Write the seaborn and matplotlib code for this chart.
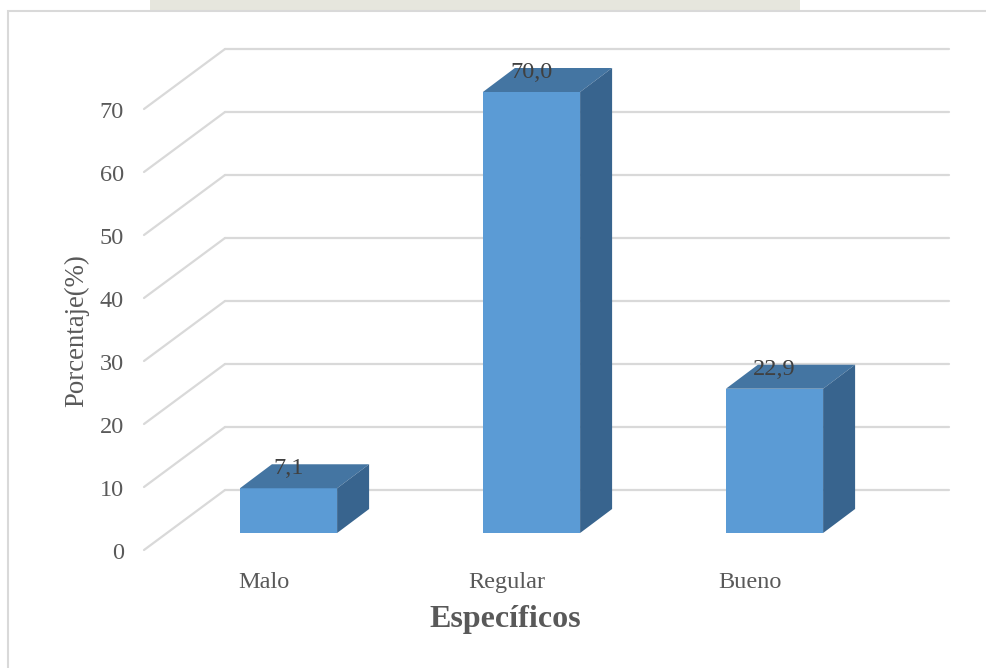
import matplotlib
matplotlib.use('Agg')
import matplotlib.pyplot as plt
import matplotlib.transforms as mtransforms
from matplotlib.patches import Polygon, Rectangle
from matplotlib.lines import Line2D
import seaborn as sns
import pandas as pd

categories = ['Malo', 'Regular', 'Bueno']
values = [7.1, 70.0, 22.9]
value_labels = ['7,1', '70,0', '22,9']
y_ticks = [0, 10, 20, 30, 40, 50, 60, 70]
x_title = 'Específicos'
y_title = 'Porcentaje(%)'

sns.set_theme(style='white')
plt.rcParams['font.family'] = ['Liberation Serif', 'DejaVu Serif']

W, H = 987, 668
DPI = 100
fig = plt.figure(figsize=(W / DPI, H / DPI), dpi=DPI)
fig.patch.set_facecolor('white')

# watermark band above the chart frame
fig.patches.append(Rectangle((150 / W, 1 - 11 / H), 650 / W, 11 / H,
                             transform=fig.transFigure, facecolor='#E6E6DD',
                             edgecolor='none', zorder=0))
# chart frame
fig.patches.append(Rectangle((8 / W, -0.02), 1.0, (H - 11) / H + 0.02,
                             transform=fig.transFigure, fill=False,
                             edgecolor='#D9D9D9', linewidth=1.5, zorder=1))

# axes = plane of the bar fronts
ax = fig.add_axes([167 / W, (H - 533) / H, 729 / W, 441 / H])
df = pd.DataFrame({'cat': categories, 'val': values})
sns.barplot(data=df, x='cat', y='val', color='#5B9BD5', width=0.4,
            saturation=1, ax=ax, zorder=3, edgecolor='none')
ax.set_xlim(-0.5, 2.5)
ax.set_ylim(0, 70)
ax.axis('off')

# 3D offsets in pixels (display: y up)
BACK = (58, 43)
BACK_R = (53, 43)
FRONT = (-23, -17)
DEPTH = (32, 24)


def disp(x, y, off=(0, 0)):
    px, py = ax.transData.transform((x, y))
    return (px + off[0], py + off[1])


ident = mtransforms.IdentityTransform()
grid_c = '#D9D9D9'
FS = 17.5

x0, x1 = ax.get_xlim()
for v in y_ticks:
    # back wall gridline
    a = disp(x0, v, BACK)
    b = disp(x1, v, BACK_R)
    fig.add_artist(Line2D([a[0], b[0]], [a[1], b[1]], transform=ident,
                          color=grid_c, lw=1.6, zorder=0))
    # side wall diagonal
    c = disp(x0, v, FRONT)
    fig.add_artist(Line2D([c[0], a[0]], [c[1], a[1]], transform=ident,
                          color=grid_c, lw=1.6, zorder=0))
    # tick label
    fig.text(c[0] - 20, c[1] - 9, str(v), transform=ident, ha='right',
             va='baseline', fontsize=FS, color='#595959')

# 3D faces of the bars
top_c = '#4475A2'
side_c = '#38648E'
for rect, lab in zip(ax.patches, value_labels):
    bx = rect.get_x()
    bw = rect.get_width()
    bh = rect.get_height()
    fl = disp(bx, bh)
    fr = disp(bx + bw, bh)
    br = disp(bx + bw, 0)
    top = [fl, fr, (fr[0] + DEPTH[0], fr[1] + DEPTH[1]),
           (fl[0] + DEPTH[0], fl[1] + DEPTH[1])]
    side = [br, fr, (fr[0] + DEPTH[0], fr[1] + DEPTH[1]),
            (br[0] + DEPTH[0], br[1] + DEPTH[1])]
    fig.add_artist(Polygon(top, closed=True, transform=ident,
                           facecolor=top_c, edgecolor='none', zorder=4))
    fig.add_artist(Polygon(side, closed=True, transform=ident,
                           facecolor=side_c, edgecolor='none', zorder=4))
    cx = disp(bx + bw / 2, bh, (0, DEPTH[1] - 10))
    fig.text(cx[0], cx[1], lab, transform=ident, ha='center', va='baseline',
             fontsize=FS, color='#404040', zorder=6)

# category labels
for i, cat in enumerate(categories):
    p = disp(i, 0, (-25, -55))
    fig.text(p[0], p[1], cat, transform=ident, ha='center', va='baseline',
             fontsize=FS, color='#595959')

fig.text(505 / W, 1 - 620 / H, x_title, ha='center', va='center',
         fontsize=23, fontweight='bold', color='#595959')
fig.text(77 / W, 1 - 331 / H, y_title, ha='center', va='center',
         rotation=90, fontsize=19.3, color='#595959')

fig.savefig('out.png', dpi=DPI)
